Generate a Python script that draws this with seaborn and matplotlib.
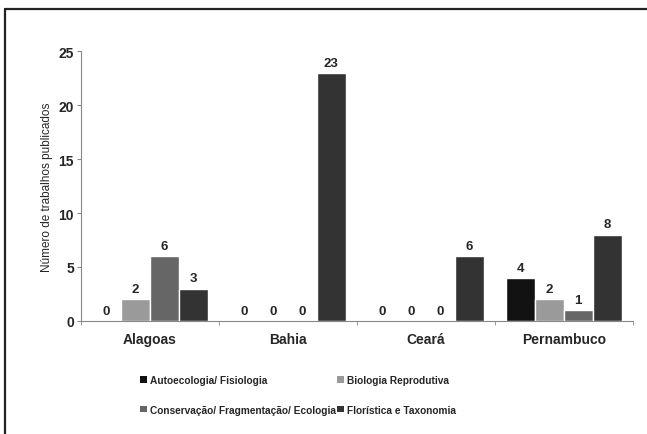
import pandas as pd
import numpy as np
import seaborn as sns
import matplotlib.pyplot as plt
from matplotlib.patches import Patch
from matplotlib.lines import Line2D

# data
estados = ['Alagoas', 'Bahia', 'Ceará', 'Pernambuco']
temas = ['Autoecologia/ Fisiologia', 'Biologia Reprodutiva',
         'Conservação/ Fragmentação/ Ecologia', 'Florística e Taxonomia']
autoecologia = [0, 0, 0, 4]
biologia = [2, 0, 0, 2]
conservacao = [6, 0, 0, 1]
floristica = [3, 23, 6, 8]
cores = ['#121212', '#9a9a9a', '#666666', '#333333']

df = pd.DataFrame({'estado': estados * 4,
                   'tema': np.repeat(temas, 4),
                   'n': autoecologia + biologia + conservacao + floristica})

sns.set_style('white')
plt.rcParams['font.family'] = ['Liberation Sans', 'DejaVu Sans']

fig = plt.figure(figsize=(6.47, 4.35), dpi=100)
ax = fig.add_axes([0.125, 0.26, 0.853, 0.62])

sns.barplot(data=df, x='estado', y='n', hue='tema', palette=cores,
            width=0.84, saturation=1, legend=False, ax=ax)

for c in ax.containers:
    ax.bar_label(c, fmt='%d', padding=3, fontsize=9.5, fontweight='bold')

ax.set_ylim(0, 25)
ax.set_yticks([0, 5, 10, 15, 20, 25])
ax.set_xlim(-0.5, 3.5)
ax.set_ylabel('Número de trabalhos publicados', fontsize=8.5)
ax.set_xlabel('')
for lab in ax.get_yticklabels() + ax.get_xticklabels():
    lab.set_fontweight('bold')
    lab.set_fontsize(10)

# tick marks between categories
ax.set_xticks([-0.5, 0.5, 1.5, 2.5, 3.5], minor=True)
ax.tick_params(axis='x', which='major', length=0, pad=8)
ax.tick_params(axis='x', which='minor', length=3, color='#888888', direction='out', bottom=True)
ax.tick_params(axis='y', length=3, color='#888888', direction='out', left=True, pad=2)

sns.despine(ax=ax)
for s in ['left', 'bottom']:
    ax.spines[s].set_color('#888888')
    ax.spines[s].set_linewidth(0.8)

# legend below the chart, two columns
handles = [Patch(facecolor=c, edgecolor='none') for c in cores]
order = [0, 2, 1, 3]
fig.legend([handles[i] for i in order], [temas[i] for i in order],
           ncol=2, frameon=False, loc='upper left', bbox_to_anchor=(0.203, 0.157),
           prop={'weight': 'bold', 'size': 7.3}, handlelength=0.65, handleheight=0.65,
           handletextpad=0.3, columnspacing=0.1, labelspacing=1.95)

# outer frame (top and left edges)
fig.add_artist(Line2D([0.008, 1.0], [0.978, 0.978], color='#222222', lw=1.6, transform=fig.transFigure))
fig.add_artist(Line2D([0.008, 0.008], [0.0, 0.978], color='#222222', lw=1.6, transform=fig.transFigure))

fig.savefig('out.png', dpi=100)
